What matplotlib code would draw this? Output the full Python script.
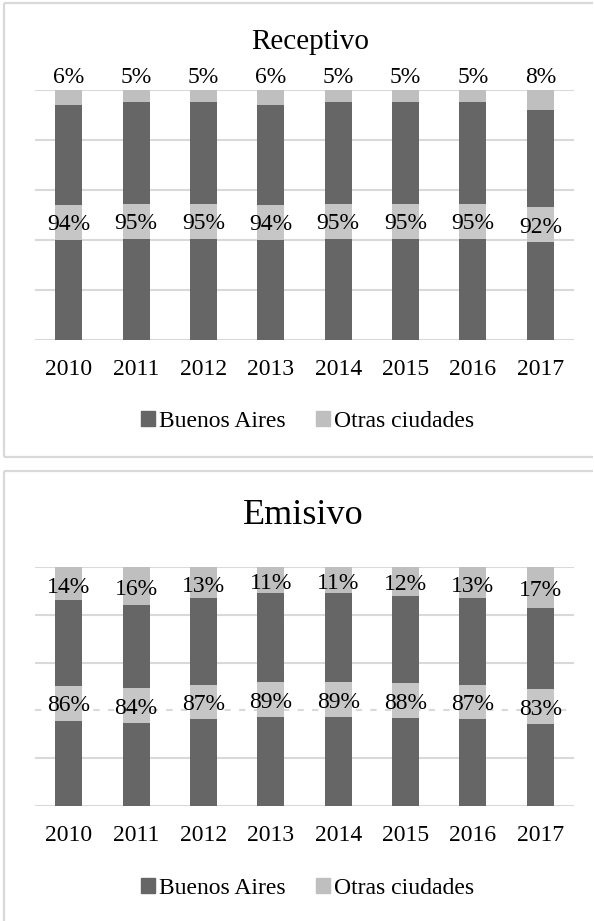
import numpy as np
import matplotlib
matplotlib.use("Agg")
import matplotlib.pyplot as plt
from matplotlib.lines import Line2D
from matplotlib.patches import Patch

plt.rcParams['font.family'] = ['Liberation Serif', 'DejaVu Serif']

# datos
years = ['2010', '2011', '2012', '2013', '2014', '2015', '2016', '2017']
receptivo_ba = [94, 95, 95, 94, 95, 95, 95, 92]
receptivo_otras = [6, 5, 5, 6, 5, 5, 5, 8]
emisivo_ba = [86, 84, 87, 89, 89, 88, 87, 83]
emisivo_otras = [14, 16, 13, 11, 11, 12, 13, 17]
series_names = ['Buenos Aires', 'Otras ciudades']

DARK = '#666666'
LIGHT = '#bfbfbf'
BOX = '#c6c6c6'
GRID = '#d9d9d9'

W, H = 594, 921
fig = plt.figure(figsize=(W / 100, H / 100), dpi=100)

def fx(px):
  return px / W

def fy(py):
  return 1 - py / H

# marcos de cada panel (solo lineas horizontales y borde izquierdo)
def hline(py, x0, x1):
  fig.lines.append(Line2D([fx(x0), fx(x1)], [fy(py), fy(py)], transform=fig.transFigure,
                          color=GRID, linewidth=1.6, solid_capstyle='butt'))

def vline(px, y0, y1):
  fig.lines.append(Line2D([fx(px), fx(px)], [fy(y0), fy(y1)], transform=fig.transFigure,
                          color=GRID, linewidth=1.6, solid_capstyle='butt'))

hline(3, 4, W - 1)
hline(457, 4, W - 1)
vline(4, 3, 457)
hline(471, 4, W - 1)
vline(4, 471, H)

# Draws one stacked panel
def drawPanel(ax, ba, otras, otras_above, box_h, dashed_level):
  x = np.arange(len(years))
  w = 0.4
  for lvl in range(0, 101, 20):
    ls = (0, (3, 4)) if lvl == dashed_level else '-'
    ax.axhline(lvl, color=GRID, linewidth=1.5, linestyle=ls, zorder=0)
  ax.bar(x, ba, w, color=DARK, zorder=2)
  ax.bar(x, otras, w, bottom=ba, color=LIGHT, zorder=2)
  # label boxes in the middle of the dark segment
  mids = np.array(ba) / 2
  ax.bar(x, box_h, w, bottom=mids - box_h / 2, color=BOX, zorder=3)
  for i in range(len(x)):
    ax.text(x[i], mids[i] - 1.0, f'{ba[i]}%', ha='center', va='center', fontsize=17, zorder=4)
    if otras_above:
      ty = 105
    else:
      ty = ba[i] + otras[i] / 2 - 1.5
    ax.text(x[i], ty, f'{otras[i]}%', ha='center', va='center', fontsize=17, zorder=4, clip_on=False)
  ax.set_xlim(-0.5, len(x) - 0.5)
  ax.set_ylim(0, 100)
  ax.set_xticks(x)
  ax.set_xticklabels(years, fontsize=17)
  ax.tick_params(axis='x', length=0, pad=14)
  ax.set_yticks([])
  for s in ax.spines.values():
    s.set_visible(False)
  handles = [Patch(color=DARK), Patch(color=LIGHT)]
  return handles

# Receptivo
ax1 = fig.add_axes([fx(35), fy(340), fx(574) - fx(35), fy(90) - fy(340)])
h = drawPanel(ax1, receptivo_ba, receptivo_otras, True, 14.0, None)
ax1.legend(h, series_names, loc='center', bbox_to_anchor=(0.506, -0.325), ncol=2, frameon=False,
           fontsize=17, handlelength=0.6, handleheight=0.6, handletextpad=0.15, columnspacing=1.3)
fig.text(fx(310), fy(42), 'Receptivo', ha='center', va='center', fontsize=21)

# Emisivo
ax2 = fig.add_axes([fx(35), fy(806), fx(574) - fx(35), fy(567) - fy(806)])
h = drawPanel(ax2, emisivo_ba, emisivo_otras, False, 14.6, 40)
ax2.legend(h, series_names, loc='center', bbox_to_anchor=(0.506, -0.345), ncol=2, frameon=False,
           fontsize=17, handlelength=0.6, handleheight=0.6, handletextpad=0.15, columnspacing=1.3)
fig.text(fx(303), fy(515), 'Emisivo', ha='center', va='center', fontsize=26)

fig.savefig('out.png', dpi=100)
